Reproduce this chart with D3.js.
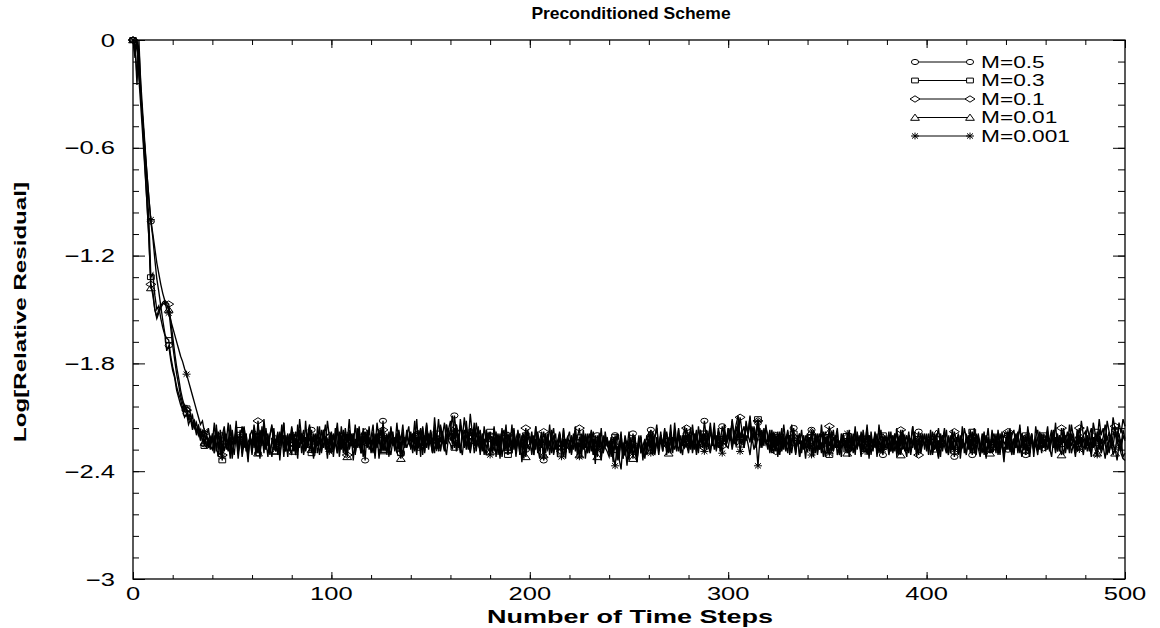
<!DOCTYPE html>
<html>
<head>
<meta charset="utf-8">
<script src="https://cdn.jsdelivr.net/npm/d3@7"></script>
<style>
  body { margin: 0; background: #fff; }
  svg { display: block; }
  text { font-family: "Liberation Sans", Arial, Helvetica, sans-serif; fill: #000; }
</style>
</head>
<body>
<svg id="chart" width="1160" height="628"></svg>
<script>
"use strict";
// one value per time step, 0..500
const steps = d3.range(0, 501);

const labels = ['M=0.5', 'M=0.3', 'M=0.1', 'M=0.01', 'M=0.001'];
const xTicks = [0, 100, 200, 300, 400, 500];
const yTicks = [0, -0.6, -1.2, -1.8, -2.4, -3];

// log10 of relative residual
const m05 = [0, -0.04, -0.01, -0.18, -0.32, -0.46, -0.6, -0.74, -0.88, -1.01,
  -1.1, -1.22, -1.33, -1.4, -1.48, -1.56, -1.63, -1.73, -1.7, -1.78,
  -1.84, -1.88, -1.95, -1.99, -2.03, -2.06, -2.1, -2.08, -2.14, -2.11,
  -2.17, -2.13, -2.2, -2.16, -2.23, -2.18, -2.25, -2.2, -2.27, -2.21,
  -2.24, -2.13, -2.29, -2.18, -2.31, -2.2, -2.15, -2.27, -2.22, -2.33, -2.17, -2.25, -2.12, -2.28, -2.21, -2.3, -2.16, -2.24, -2.35, -2.19,
  -2.27, -2.14, -2.22, -2.3, -2.17, -2.26, -2.11, -2.23, -2.32, -2.2, -2.15, -2.28, -2.24, -2.18, -2.34, -2.21, -2.13, -2.26, -2.19, -2.29,
  -2.16, -2.25, -2.31, -2.14, -2.23, -2.19, -2.3, -2.12, -2.27, -2.22, -2.17, -2.33, -2.2, -2.26, -2.15, -2.29, -2.21, -2.14, -2.28, -2.24,
  -2.18, -2.32, -2.21, -2.13, -2.27, -2.2, -2.3, -2.16, -2.24, -2.11, -2.26, -2.19, -2.31, -2.22, -2.15, -2.28, -2.2, -2.34, -2.17, -2.25,
  -2.21, -2.14, -2.29, -2.23, -2.17, -2.3, -2.12, -2.25, -2.19, -2.32, -2.16, -2.22, -2.27, -2.13, -2.24, -2.3, -2.18, -2.26, -2.2, -2.15,
  -2.28, -2.19, -2.24, -2.11, -2.27, -2.21, -2.16, -2.3, -2.14, -2.23, -2.18, -2.26, -2.1, -2.22, -2.29, -2.15, -2.2, -2.13, -2.25, -2.17,
  -2.12, -2.24, -2.09, -2.19, -2.27, -2.14, -2.22, -2.1, -2.2, -2.28, -2.16, -2.23, -2.13, -2.29, -2.18, -2.25, -2.21, -2.31, -2.17, -2.24,
  -2.2, -2.3, -2.15, -2.26, -2.22, -2.33, -2.18, -2.25, -2.14, -2.29, -2.21, -2.27, -2.16, -2.32, -2.23, -2.19, -2.35, -2.22, -2.28, -2.17,
  -2.25, -2.2, -2.31, -2.15, -2.27, -2.23, -2.18, -2.34, -2.21, -2.26, -2.14, -2.29, -2.24, -2.19, -2.32, -2.2, -2.27, -2.16, -2.3, -2.22,
  -2.18, -2.28, -2.23, -2.15, -2.31, -2.21, -2.26, -2.17, -2.33, -2.24, -2.19, -2.29, -2.22, -2.36, -2.2, -2.27, -2.16, -2.3, -2.24, -2.21,
  -2.29, -2.23, -2.35, -2.2, -2.31, -2.26, -2.18, -2.33, -2.25, -2.37, -2.22, -2.3, -2.19, -2.28, -2.34, -2.24, -2.21, -2.32, -2.27, -2.2,
  -2.26, -2.17, -2.3, -2.22, -2.14, -2.28, -2.2, -2.25, -2.16, -2.31, -2.23, -2.18, -2.27, -2.13, -2.24, -2.29, -2.2, -2.26, -2.15, -2.22,
  -2.19, -2.28, -2.14, -2.24, -2.2, -2.3, -2.17, -2.25, -2.12, -2.22, -2.27, -2.18, -2.23, -2.13, -2.29, -2.19, -2.24, -2.15, -2.21, -2.26,
  -2.16, -2.23, -2.11, -2.2, -2.14, -2.09, -2.22, -2.17, -2.25, -2.12, -2.19, -2.1, -2.24, -2.15, -2.21, -2.13, -2.27, -2.18, -2.23, -2.16,
  -2.2, -2.29, -2.17, -2.25, -2.21, -2.32, -2.18, -2.27, -2.14, -2.24, -2.3, -2.2, -2.26, -2.16, -2.31, -2.22, -2.19, -2.28, -2.23, -2.33,
  -2.21, -2.27, -2.17, -2.3, -2.23, -2.19, -2.28, -2.14, -2.25, -2.32, -2.2, -2.26, -2.18, -2.29, -2.22, -2.16, -2.31, -2.24, -2.2, -2.27,
  -2.23, -2.32, -2.19, -2.26, -2.15, -2.28, -2.21, -2.3, -2.17, -2.25, -2.2, -2.33, -2.18, -2.27, -2.22, -2.29, -2.14, -2.24, -2.31, -2.2,
  -2.26, -2.18, -2.29, -2.21, -2.25, -2.16, -2.3, -2.22, -2.19, -2.27, -2.32, -2.2, -2.24, -2.15, -2.28, -2.23, -2.18, -2.3, -2.21, -2.26,
  -2.22, -2.31, -2.17, -2.27, -2.2, -2.25, -2.33, -2.19, -2.24, -2.16, -2.29, -2.21, -2.26, -2.18, -2.32, -2.23, -2.2, -2.28, -2.15, -2.3,
  -2.19, -2.27, -2.22, -2.31, -2.16, -2.25, -2.2, -2.29, -2.24, -2.18, -2.33, -2.21, -2.27, -2.17, -2.26, -2.22, -2.3, -2.19, -2.25, -2.35,
  -2.21, -2.28, -2.16, -2.25, -2.3, -2.19, -2.24, -2.14, -2.27, -2.22, -2.31, -2.18, -2.26, -2.2, -2.29, -2.15, -2.23, -2.28, -2.19, -2.25,
  -2.22, -2.15, -2.27, -2.19, -2.24, -2.13, -2.29, -2.2, -2.25, -2.16, -2.23, -2.18, -2.28, -2.14, -2.21, -2.26, -2.17, -2.24, -2.12, -2.2,
  -2.24, -2.15, -2.21, -2.27, -2.13, -2.19, -2.23, -2.11, -2.2, -2.16, -2.25, -2.12, -2.18, -2.22, -2.1, -2.17, -2.21, -2.13, -2.19, -2.11,
  -2.15];

const m03 = [0, -0.08, 0, -0.12, -0.3, -0.45, -0.62, -0.8, -1.0, -1.32,
  -1.3, -1.42, -1.5, -1.48, -1.55, -1.6, -1.64, -1.66, -1.67, -1.76,
  -1.82, -1.87, -1.93, -1.97, -2.0, -2.05, -2.03, -2.05, -2.1, -2.08,
  -2.14, -2.12, -2.18, -2.15, -2.22, -2.19, -2.26, -2.2, -2.24, -2.28,
  -2.2, -2.3, -2.16, -2.26, -2.22, -2.34, -2.19, -2.25, -2.29, -2.14, -2.23, -2.31, -2.2, -2.27, -2.17, -2.32, -2.24, -2.19, -2.28, -2.22,
  -2.31, -2.18, -2.26, -2.21, -2.33, -2.15, -2.27, -2.23, -2.19, -2.3, -2.24, -2.16, -2.29, -2.22, -2.26, -2.18, -2.32, -2.2, -2.25, -2.28,
  -2.19, -2.27, -2.22, -2.33, -2.17, -2.25, -2.2, -2.29, -2.24, -2.15, -2.3, -2.21, -2.26, -2.19, -2.31, -2.23, -2.17, -2.28, -2.22, -2.26,
  -2.3, -2.2, -2.25, -2.16, -2.32, -2.23, -2.18, -2.28, -2.21, -2.26, -2.19, -2.34, -2.22, -2.27, -2.17, -2.3, -2.24, -2.2, -2.26, -2.15,
  -2.27, -2.21, -2.33, -2.19, -2.25, -2.16, -2.29, -2.23, -2.2, -2.31, -2.24, -2.18, -2.28, -2.22, -2.17, -2.3, -2.21, -2.26, -2.19, -2.24,
  -2.22, -2.3, -2.18, -2.26, -2.2, -2.32, -2.15, -2.25, -2.21, -2.28, -2.17, -2.23, -2.3, -2.19, -2.26, -2.14, -2.24, -2.29, -2.2, -2.16,
  -2.23, -2.19, -2.27, -2.14, -2.22, -2.29, -2.17, -2.25, -2.12, -2.24, -2.3, -2.18, -2.26, -2.21, -2.15, -2.28, -2.2, -2.25, -2.31, -2.22,
  -2.18, -2.27, -2.21, -2.32, -2.2, -2.26, -2.16, -2.29, -2.23, -2.31, -2.19, -2.25, -2.22, -2.3, -2.17, -2.28, -2.24, -2.33, -2.2, -2.26,
  -2.25, -2.18, -2.29, -2.22, -2.27, -2.33, -2.2, -2.24, -2.3, -2.21, -2.26, -2.17, -2.31, -2.23, -2.28, -2.19, -2.25, -2.32, -2.22, -2.27,
  -2.28, -2.2, -2.25, -2.17, -2.3, -2.24, -2.32, -2.21, -2.27, -2.19, -2.29, -2.23, -2.18, -2.31, -2.25, -2.22, -2.34, -2.2, -2.26, -2.23,
  -2.31, -2.25, -2.29, -2.21, -2.34, -2.27, -2.23, -2.3, -2.2, -2.26, -2.32, -2.24, -2.28, -2.2, -2.35, -2.25, -2.22, -2.3, -2.26, -2.29,
  -2.22, -2.27, -2.18, -2.31, -2.24, -2.28, -2.2, -2.26, -2.17, -2.29, -2.23, -2.19, -2.3, -2.21, -2.25, -2.16, -2.28, -2.22, -2.27, -2.2,
  -2.25, -2.2, -2.3, -2.23, -2.17, -2.27, -2.22, -2.25, -2.19, -2.28, -2.21, -2.15, -2.26, -2.2, -2.24, -2.18, -2.29, -2.22, -2.17, -2.25,
  -2.21, -2.16, -2.25, -2.19, -2.23, -2.12, -2.21, -2.17, -2.27, -2.14, -2.2, -2.24, -2.15, -2.22, -2.18, -2.11, -2.2, -2.25, -2.16, -2.22,
  -2.26, -2.21, -2.3, -2.18, -2.27, -2.22, -2.31, -2.2, -2.25, -2.24, -2.17, -2.29, -2.23, -2.19, -2.28, -2.21, -2.32, -2.25, -2.2, -2.27,
  -2.29, -2.21, -2.26, -2.32, -2.19, -2.28, -2.23, -2.3, -2.18, -2.25, -2.21, -2.31, -2.24, -2.17, -2.27, -2.22, -2.3, -2.19, -2.26, -2.23,
  -2.28, -2.2, -2.27, -2.22, -2.31, -2.18, -2.25, -2.21, -2.29, -2.24, -2.16, -2.3, -2.22, -2.27, -2.19, -2.32, -2.23, -2.26, -2.2, -2.28,
  -2.21, -2.3, -2.24, -2.27, -2.19, -2.32, -2.22, -2.26, -2.17, -2.29, -2.25, -2.2, -2.31, -2.23, -2.18, -2.28, -2.22, -2.3, -2.25, -2.19,
  -2.27, -2.22, -2.31, -2.25, -2.19, -2.28, -2.23, -2.32, -2.2, -2.26, -2.3, -2.21, -2.27, -2.17, -2.29, -2.24, -2.2, -2.33, -2.22, -2.26,
  -2.3, -2.23, -2.28, -2.18, -2.26, -2.31, -2.21, -2.27, -2.19, -2.25, -2.32, -2.22, -2.28, -2.2, -2.24, -2.3, -2.17, -2.26, -2.23, -2.29,
  -2.28, -2.2, -2.26, -2.31, -2.22, -2.27, -2.18, -2.3, -2.23, -2.25, -2.2, -2.29, -2.24, -2.19, -2.32, -2.21, -2.27, -2.23, -2.3, -2.2,
  -2.21, -2.28, -2.22, -2.17, -2.27, -2.21, -2.29, -2.2, -2.25, -2.18, -2.3, -2.23, -2.19, -2.26, -2.22, -2.29, -2.17, -2.25, -2.21, -2.27,
  -2.26, -2.2, -2.25, -2.3, -2.21, -2.26, -2.18, -2.28, -2.22, -2.27, -2.19, -2.24, -2.3, -2.21, -2.26, -2.18, -2.25, -2.22, -2.29, -2.2,
  -2.23];

const m01 = [0, -0.02, -0.25, 0, -0.3, -0.5, -0.7, -0.9, -1.1, -1.36,
  -1.42, -1.5, -1.54, -1.5, -1.48, -1.46, -1.45, -1.46, -1.47, -1.56,
  -1.65, -1.74, -1.82, -1.88, -1.95, -2.0, -2.04, -2.06, -2.1, -2.12,
  -2.09, -2.16, -2.13, -2.2, -2.17, -2.24, -2.19, -2.27, -2.22, -2.25,
  -2.19, -2.26, -2.14, -2.28, -2.21, -2.31, -2.17, -2.24, -2.13, -2.29, -2.2, -2.25, -2.16, -2.3, -2.22, -2.15, -2.27, -2.19, -2.32, -2.21,
  -2.24, -2.17, -2.28, -2.12, -2.25, -2.19, -2.3, -2.16, -2.26, -2.2, -2.14, -2.27, -2.22, -2.31, -2.18, -2.24, -2.13, -2.29, -2.2, -2.25,
  -2.15, -2.23, -2.18, -2.29, -2.11, -2.22, -2.17, -2.27, -2.2, -2.14, -2.26, -2.19, -2.3, -2.15, -2.23, -2.28, -2.17, -2.25, -2.12, -2.21,
  -2.23, -2.29, -2.16, -2.24, -2.28, -2.15, -2.26, -2.19, -2.31, -2.17, -2.22, -2.27, -2.14, -2.25, -2.2, -2.3, -2.16, -2.24, -2.19, -2.28,
  -2.25, -2.18, -2.27, -2.13, -2.22, -2.29, -2.17, -2.24, -2.2, -2.28, -2.15, -2.26, -2.21, -2.3, -2.18, -2.23, -2.14, -2.27, -2.2, -2.25,
  -2.18, -2.24, -2.12, -2.27, -2.2, -2.16, -2.26, -2.22, -2.13, -2.25, -2.19, -2.29, -2.15, -2.23, -2.11, -2.24, -2.18, -2.28, -2.14, -2.21,
  -2.17, -2.09, -2.22, -2.14, -2.25, -2.11, -2.2, -2.27, -2.15, -2.23, -2.08, -2.19, -2.26, -2.13, -2.21, -2.17, -2.28, -2.15, -2.24, -2.19,
  -2.22, -2.29, -2.16, -2.25, -2.19, -2.3, -2.21, -2.17, -2.27, -2.2, -2.26, -2.14, -2.28, -2.22, -2.18, -2.31, -2.2, -2.25, -2.16, -2.27,
  -2.28, -2.2, -2.26, -2.15, -2.3, -2.22, -2.27, -2.18, -2.25, -2.19, -2.31, -2.21, -2.16, -2.28, -2.23, -2.19, -2.29, -2.17, -2.26, -2.21,
  -2.24, -2.3, -2.19, -2.27, -2.21, -2.16, -2.29, -2.23, -2.2, -2.28, -2.25, -2.17, -2.31, -2.22, -2.27, -2.19, -2.24, -2.3, -2.18, -2.26,
  -2.23, -2.32, -2.21, -2.28, -2.19, -2.3, -2.24, -2.33, -2.22, -2.27, -2.18, -2.29, -2.25, -2.21, -2.31, -2.26, -2.2, -2.34, -2.23, -2.28,
  -2.18, -2.25, -2.31, -2.21, -2.16, -2.27, -2.2, -2.29, -2.22, -2.18, -2.26, -2.14, -2.28, -2.21, -2.25, -2.17, -2.3, -2.2, -2.24, -2.16,
  -2.23, -2.16, -2.26, -2.19, -2.29, -2.15, -2.24, -2.2, -2.27, -2.17, -2.22, -2.13, -2.25, -2.19, -2.28, -2.16, -2.21, -2.26, -2.14, -2.23,
  -2.16, -2.21, -2.12, -2.25, -2.15, -2.2, -2.1, -2.18, -2.23, -2.14, -2.19, -2.09, -2.22, -2.16, -2.24, -2.12, -2.2, -2.17, -2.26, -2.14,
  -2.23, -2.17, -2.27, -2.2, -2.29, -2.18, -2.25, -2.16, -2.28, -2.21, -2.19, -2.26, -2.14, -2.24, -2.3, -2.2, -2.25, -2.17, -2.28, -2.22,
  -2.19, -2.27, -2.21, -2.17, -2.3, -2.23, -2.19, -2.28, -2.22, -2.18, -2.26, -2.15, -2.29, -2.21, -2.25, -2.18, -2.3, -2.23, -2.19, -2.26,
  -2.24, -2.17, -2.29, -2.22, -2.18, -2.27, -2.2, -2.31, -2.19, -2.25, -2.14, -2.28, -2.21, -2.26, -2.18, -2.3, -2.22, -2.17, -2.27, -2.23,
  -2.21, -2.27, -2.18, -2.3, -2.23, -2.19, -2.28, -2.17, -2.26, -2.21, -2.29, -2.2, -2.25, -2.15, -2.27, -2.23, -2.31, -2.19, -2.24, -2.2,
  -2.29, -2.19, -2.25, -2.18, -2.28, -2.22, -2.16, -2.27, -2.2, -2.25, -2.17, -2.3, -2.21, -2.26, -2.18, -2.23, -2.29, -2.2, -2.26, -2.16,
  -2.21, -2.28, -2.17, -2.26, -2.21, -2.29, -2.19, -2.25, -2.3, -2.2, -2.24, -2.16, -2.28, -2.22, -2.19, -2.27, -2.23, -2.31, -2.18, -2.25,
  -2.23, -2.18, -2.28, -2.2, -2.17, -2.27, -2.21, -2.16, -2.26, -2.2, -2.29, -2.15, -2.24, -2.19, -2.28, -2.21, -2.17, -2.25, -2.22, -2.27,
  -2.22, -2.18, -2.28, -2.21, -2.17, -2.26, -2.19, -2.29, -2.16, -2.24, -2.2, -2.27, -2.14, -2.23, -2.19, -2.28, -2.21, -2.16, -2.25, -2.2,
  -2.18, -2.26, -2.2, -2.16, -2.27, -2.19, -2.24, -2.17, -2.25, -2.21, -2.14, -2.23, -2.18, -2.27, -2.2, -2.15, -2.24, -2.19, -2.26, -2.17,
  -2.22];

const m001 = [0, -0.1, 0, -0.22, -0.38, -0.55, -0.72, -0.9, -1.1, -1.38,
  -1.4, -1.5, -1.55, -1.52, -1.49, -1.47, -1.46, -1.47, -1.5, -1.6,
  -1.7, -1.78, -1.86, -1.92, -1.98, -2.02, -2.06, -2.05, -2.11, -2.08,
  -2.15, -2.12, -2.19, -2.14, -2.21, -2.17, -2.24, -2.2, -2.23, -2.26,
  -2.28, -2.2, -2.26, -2.32, -2.17, -2.25, -2.29, -2.19, -2.27, -2.21, -2.33, -2.23, -2.18, -2.3, -2.22, -2.27, -2.15, -2.26, -2.31, -2.2,
  -2.17, -2.27, -2.2, -2.3, -2.19, -2.25, -2.16, -2.28, -2.21, -2.31, -2.23, -2.18, -2.29, -2.2, -2.26, -2.14, -2.27, -2.22, -2.32, -2.19,
  -2.22, -2.29, -2.24, -2.18, -2.27, -2.19, -2.31, -2.21, -2.26, -2.16, -2.28, -2.22, -2.19, -2.3, -2.24, -2.17, -2.27, -2.21, -2.33, -2.2,
  -2.27, -2.19, -2.25, -2.3, -2.2, -2.28, -2.17, -2.24, -2.32, -2.19, -2.26, -2.21, -2.29, -2.16, -2.25, -2.3, -2.22, -2.18, -2.27, -2.23,
  -2.24, -2.3, -2.19, -2.27, -2.21, -2.17, -2.28, -2.2, -2.31, -2.18, -2.25, -2.22, -2.29, -2.19, -2.26, -2.33, -2.21, -2.27, -2.17, -2.24,
  -2.27, -2.19, -2.29, -2.21, -2.26, -2.18, -2.31, -2.2, -2.27, -2.19, -2.24, -2.3, -2.17, -2.25, -2.22, -2.28, -2.2, -2.26, -2.14, -2.23,
  -2.25, -2.28, -2.16, -2.27, -2.19, -2.3, -2.21, -2.17, -2.26, -2.2, -2.29, -2.23, -2.18, -2.27, -2.21, -2.31, -2.19, -2.25, -2.2, -2.28,
  -2.29, -2.21, -2.26, -2.18, -2.31, -2.23, -2.2, -2.28, -2.19, -2.27, -2.22, -2.3, -2.17, -2.25, -2.21, -2.29, -2.24, -2.19, -2.32, -2.22,
  -2.21, -2.31, -2.2, -2.28, -2.18, -2.26, -2.22, -2.31, -2.19, -2.27, -2.23, -2.3, -2.2, -2.25, -2.29, -2.18, -2.26, -2.22, -2.33, -2.21,
  -2.3, -2.21, -2.28, -2.2, -2.26, -2.31, -2.19, -2.28, -2.23, -2.21, -2.3, -2.18, -2.27, -2.22, -2.32, -2.2, -2.25, -2.29, -2.21, -2.26,
  -2.27, -2.21, -2.3, -2.25, -2.28, -2.34, -2.2, -2.29, -2.31, -2.23, -2.27, -2.21, -2.33, -2.25, -2.29, -2.2, -2.3, -2.26, -2.22, -2.31,
  -2.28, -2.19, -2.26, -2.3, -2.21, -2.28, -2.18, -2.27, -2.23, -2.19, -2.3, -2.22, -2.26, -2.17, -2.29, -2.21, -2.25, -2.31, -2.2, -2.24,
  -2.27, -2.21, -2.18, -2.28, -2.2, -2.26, -2.17, -2.27, -2.21, -2.25, -2.19, -2.29, -2.22, -2.16, -2.26, -2.2, -2.28, -2.23, -2.18, -2.25,
  -2.22, -2.17, -2.26, -2.18, -2.24, -2.16, -2.25, -2.19, -2.15, -2.23, -2.2, -2.14, -2.24, -2.18, -2.27, -2.21, -2.16, -2.25, -2.19, -2.23,
  -2.28, -2.19, -2.25, -2.3, -2.2, -2.26, -2.19, -2.29, -2.22, -2.27, -2.18, -2.31, -2.23, -2.2, -2.28, -2.24, -2.19, -2.3, -2.22, -2.26,
  -2.21, -2.29, -2.18, -2.26, -2.2, -2.31, -2.23, -2.19, -2.27, -2.21, -2.3, -2.18, -2.25, -2.29, -2.2, -2.27, -2.23, -2.32, -2.21, -2.26,
  -2.3, -2.22, -2.27, -2.19, -2.29, -2.21, -2.26, -2.18, -2.28, -2.22, -2.31, -2.2, -2.25, -2.29, -2.19, -2.27, -2.23, -2.3, -2.21, -2.26,
  -2.27, -2.2, -2.29, -2.23, -2.19, -2.28, -2.21, -2.31, -2.22, -2.2, -2.27, -2.18, -2.29, -2.24, -2.2, -2.3, -2.22, -2.26, -2.19, -2.28,
  -2.19, -2.27, -2.21, -2.3, -2.23, -2.19, -2.29, -2.21, -2.27, -2.18, -2.26, -2.31, -2.2, -2.28, -2.22, -2.25, -2.19, -2.3, -2.23, -2.27,
  -2.24, -2.2, -2.3, -2.22, -2.28, -2.19, -2.27, -2.32, -2.21, -2.28, -2.2, -2.26, -2.3, -2.22, -2.27, -2.19, -2.31, -2.23, -2.25, -2.2,
  -2.2, -2.26, -2.19, -2.29, -2.22, -2.2, -2.3, -2.23, -2.19, -2.28, -2.21, -2.27, -2.32, -2.2, -2.26, -2.22, -2.29, -2.18, -2.25, -2.21,
  -2.26, -2.2, -2.29, -2.23, -2.19, -2.28, -2.21, -2.27, -2.31, -2.2, -2.25, -2.22, -2.3, -2.19, -2.27, -2.23, -2.29, -2.2, -2.26, -2.22,
  -2.28, -2.21, -2.29, -2.19, -2.27, -2.22, -2.3, -2.2, -2.28, -2.23, -2.25, -2.31, -2.21, -2.27, -2.24, -2.3, -2.2, -2.28, -2.22, -2.32,
  -2.3];

const m0001 = [0, -0.03, -0.2, -0.05, -0.25, -0.42, -0.58, -0.74, -0.88, -1.0,
  -1.08, -1.16, -1.24, -1.3, -1.36, -1.41, -1.45, -1.5, -1.52, -1.56,
  -1.6, -1.64, -1.68, -1.72, -1.76, -1.79, -1.83, -1.86, -1.9, -1.94,
  -1.98, -2.02, -2.06, -2.1, -2.14, -2.12, -2.18, -2.2, -2.16, -2.24,
  -2.21, -2.3, -2.18, -2.27, -2.22, -2.32, -2.19, -2.28, -2.23, -2.17, -2.3, -2.24, -2.2, -2.33, -2.22, -2.27, -2.18, -2.29, -2.24, -2.21,
  -2.27, -2.21, -2.31, -2.19, -2.29, -2.22, -2.18, -2.28, -2.2, -2.26, -2.32, -2.22, -2.27, -2.19, -2.3, -2.24, -2.2, -2.29, -2.23, -2.27,
  -2.31, -2.2, -2.28, -2.23, -2.17, -2.3, -2.21, -2.27, -2.19, -2.29, -2.22, -2.32, -2.2, -2.26, -2.21, -2.3, -2.18, -2.27, -2.23, -2.29,
  -2.19, -2.27, -2.21, -2.3, -2.18, -2.26, -2.22, -2.31, -2.2, -2.28, -2.24, -2.19, -2.3, -2.22, -2.27, -2.2, -2.32, -2.23, -2.26, -2.21,
  -2.3, -2.22, -2.27, -2.19, -2.33, -2.23, -2.2, -2.29, -2.21, -2.27, -2.31, -2.22, -2.26, -2.19, -2.28, -2.24, -2.32, -2.21, -2.27, -2.23,
  -2.2, -2.28, -2.22, -2.31, -2.19, -2.27, -2.21, -2.29, -2.18, -2.26, -2.23, -2.3, -2.2, -2.27, -2.22, -2.29, -2.19, -2.25, -2.31, -2.21,
  -2.19, -2.25, -2.18, -2.29, -2.21, -2.26, -2.31, -2.2, -2.28, -2.22, -2.27, -2.19, -2.3, -2.23, -2.26, -2.2, -2.29, -2.22, -2.27, -2.24,
  -2.31, -2.23, -2.29, -2.21, -2.27, -2.19, -2.32, -2.24, -2.28, -2.2, -2.26, -2.3, -2.22, -2.27, -2.2, -2.31, -2.23, -2.28, -2.21, -2.26,
  -2.27, -2.22, -2.31, -2.24, -2.2, -2.29, -2.23, -2.32, -2.21, -2.28, -2.25, -2.21, -2.3, -2.23, -2.27, -2.2, -2.32, -2.24, -2.29, -2.22,
  -2.23, -2.31, -2.21, -2.29, -2.24, -2.32, -2.22, -2.27, -2.19, -2.3, -2.25, -2.22, -2.31, -2.2, -2.28, -2.24, -2.33, -2.21, -2.27, -2.29,
  -2.32, -2.25, -2.31, -2.37, -2.26, -2.33, -2.39, -2.24, -2.31, -2.27, -2.34, -2.23, -2.3, -2.28, -2.35, -2.22, -2.29, -2.26, -2.33, -2.24,
  -2.24, -2.3, -2.21, -2.28, -2.23, -2.31, -2.22, -2.29, -2.2, -2.27, -2.25, -2.3, -2.21, -2.28, -2.24, -2.19, -2.3, -2.22, -2.27, -2.25,
  -2.3, -2.22, -2.28, -2.2, -2.31, -2.23, -2.27, -2.19, -2.29, -2.22, -2.26, -2.3, -2.21, -2.28, -2.2, -2.27, -2.23, -2.3, -2.19, -2.26,
  -2.27, -2.2, -2.28, -2.21, -2.26, -2.18, -2.29, -2.22, -2.27, -2.2, -2.25, -2.31, -2.21, -2.28, -2.23, -2.37, -2.22, -2.27, -2.19, -2.25,
  -2.22, -2.3, -2.2, -2.27, -2.21, -2.31, -2.23, -2.28, -2.19, -2.29, -2.24, -2.2, -2.3, -2.22, -2.27, -2.21, -2.32, -2.23, -2.26, -2.2,
  -2.27, -2.21, -2.31, -2.23, -2.29, -2.2, -2.28, -2.24, -2.32, -2.21, -2.26, -2.3, -2.22, -2.28, -2.2, -2.31, -2.24, -2.27, -2.21, -2.29,
  -2.19, -2.28, -2.22, -2.3, -2.2, -2.27, -2.23, -2.32, -2.21, -2.29, -2.24, -2.2, -2.31, -2.22, -2.27, -2.19, -2.3, -2.24, -2.28, -2.21,
  -2.22, -2.31, -2.24, -2.2, -2.29, -2.23, -2.31, -2.21, -2.28, -2.24, -2.2, -2.3, -2.22, -2.27, -2.21, -2.32, -2.23, -2.28, -2.2, -2.26,
  -2.2, -2.28, -2.23, -2.31, -2.21, -2.27, -2.32, -2.22, -2.29, -2.23, -2.27, -2.2, -2.3, -2.24, -2.28, -2.21, -2.31, -2.22, -2.27, -2.25,
  -2.31, -2.22, -2.28, -2.2, -2.3, -2.24, -2.21, -2.29, -2.23, -2.31, -2.2, -2.27, -2.24, -2.3, -2.22, -2.28, -2.19, -2.29, -2.25, -2.31,
  -2.27, -2.19, -2.29, -2.22, -2.31, -2.21, -2.28, -2.24, -2.32, -2.23, -2.27, -2.2, -2.3, -2.22, -2.28, -2.25, -2.31, -2.21, -2.27, -2.23,
  -2.29, -2.21, -2.27, -2.32, -2.22, -2.3, -2.2, -2.28, -2.23, -2.31, -2.24, -2.27, -2.21, -2.3, -2.25, -2.32, -2.22, -2.28, -2.24, -2.31,
  -2.22, -2.29, -2.24, -2.32, -2.21, -2.28, -2.31, -2.23, -2.3, -2.26, -2.33, -2.24, -2.29, -2.22, -2.31, -2.27, -2.34, -2.25, -2.3, -2.33,
  -2.34];

const seriesValues = [m05, m03, m01, m001, m0001];
const markerTypes = ['circle', 'square', 'diamond', 'triangle', 'star'];

const svg = d3.select('#chart');
const plot = {left: 133, right: 1125, top: 40, bottom: 579};
// the source picture is stretched sideways, so text is too
const SX = 1.42;

const x = d3.scaleLinear().domain([0, 500]).range([plot.left, plot.right]);
const y = d3.scaleLinear().domain([-3, 0]).range([plot.bottom, plot.top]);

function marker(type) {
  const p = d3.path();
  if (type === 'circle') {
    return 'M-3.6,0 A3.6,2.6 0 1,0 3.6,0 A3.6,2.6 0 1,0 -3.6,0 Z';
  }
  if (type === 'square') { p.rect(-3.4, -2.4, 6.8, 4.8); return p.toString(); }
  if (type === 'diamond') {
    p.moveTo(-5, 0); p.lineTo(0, -3.2); p.lineTo(5, 0); p.lineTo(0, 3.2); p.closePath();
    return p.toString();
  }
  if (type === 'triangle') {
    p.moveTo(-4.4, 2.8); p.lineTo(0, -3.4); p.lineTo(4.4, 2.8); p.closePath();
    return p.toString();
  }
  // asterisk
  p.moveTo(-4, 0); p.lineTo(4, 0);
  p.moveTo(0, -3.4); p.lineTo(0, 3.4);
  p.moveTo(-3, -2.6); p.lineTo(3, 2.6);
  p.moveTo(-3, 2.6); p.lineTo(3, -2.6);
  return p.toString();
}

function addText(str, px, py, size, anchor, weight, sx) {
  return svg.append('text')
    .attr('transform', `translate(${px},${py}) scale(${sx || SX},1)`)
    .attr('text-anchor', anchor)
    .style('font-size', size + 'px')
    .style('font-weight', weight || 'normal')
    .text(str);
}

// ticks, all pointing inward
function tickRow(axis, tr, values, len) {
  svg.append('g')
    .attr('transform', tr)
    .style('color', '#000')
    .call(axis.tickValues(values).tickSize(-len).tickFormat('').tickSizeOuter(0))
    .call(g => g.select('.domain').remove())
    .call(g => g.selectAll('line').attr('stroke-width', 1));
}
const xMinor = d3.range(0, 501, 20);
const yMinor = d3.range(0, 26).map(i => -i * 0.12);
tickRow(d3.axisBottom(x), `translate(0,${plot.bottom})`, xMinor, 4);
tickRow(d3.axisBottom(x), `translate(0,${plot.bottom})`, xTicks, 7);
tickRow(d3.axisTop(x), `translate(0,${plot.top})`, xMinor, 5);
tickRow(d3.axisTop(x), `translate(0,${plot.top})`, xTicks, 8);
tickRow(d3.axisLeft(y), `translate(${plot.left},0)`, yMinor, 6);
tickRow(d3.axisLeft(y), `translate(${plot.left},0)`, yTicks, 12);
tickRow(d3.axisRight(y), `translate(${plot.right},0)`, yMinor, 7);
tickRow(d3.axisRight(y), `translate(${plot.right},0)`, yTicks, 12);

svg.append('rect')
  .attr('x', plot.left).attr('y', plot.top)
  .attr('width', plot.right - plot.left).attr('height', plot.bottom - plot.top)
  .attr('fill', 'none').attr('stroke', '#000').attr('stroke-width', 1.3);

// tick labels
const fmt = v => v === 0 ? '0' : '\u2212' + Math.abs(v);
yTicks.forEach(v => addText(fmt(v), 115, y(v) + 6.5, 18, 'end'));
xTicks.forEach(v => addText(String(v), x(v), 600, 18, 'middle'));

// lines + markers
const line = d3.line().x(d => x(d.step)).y(d => y(d.v));
seriesValues.forEach((vals, si) => {
  const pts = steps.map((s, i) => ({step: s, v: vals[i]}));
  svg.append('path')
    .datum(pts)
    .attr('d', line)
    .attr('fill', 'none')
    .attr('stroke', '#000')
    .attr('stroke-width', 1.35);
  // one marker every 9 steps
  svg.append('g').selectAll('path')
    .data(pts.filter(d => d.step % 9 === 0))
    .join('path')
    .attr('transform', d => `translate(${x(d.step)},${y(d.v)})`)
    .attr('d', marker(markerTypes[si]))
    .attr('fill', 'none')
    .attr('stroke', '#000')
    .attr('stroke-width', 1);
});

// legend
const legY = d3.scalePoint().domain(labels).range([62, 136]);
labels.forEach((lab, i) => {
  const ly = legY(lab);
  svg.append('line').attr('x1', 915).attr('x2', 970).attr('y1', ly).attr('y2', ly)
    .attr('stroke', '#000').attr('stroke-width', 1);
  [915, 970].forEach(mx => svg.append('path')
    .attr('transform', `translate(${mx},${ly})`)
    .attr('d', marker(markerTypes[i]))
    .attr('fill', '#fff').attr('stroke', '#000').attr('stroke-width', 1));
  addText(lab, 981, ly + 5.5, 16, 'start');
});

// titles
addText('Preconditioned Scheme', 631, 19, 16.5, 'middle', 'bold', 1.06);
addText('Number of Time Steps', 630, 623, 18, 'middle', 'bold', 1.5);
svg.append('text')
  .attr('transform', `translate(26,312) rotate(-90) scale(${SX},1)`)
  .attr('text-anchor', 'middle')
  .style('font-size', '17px')
  .style('font-weight', 'bold')
  .text('Log[Relative Residual]');
</script>
</body>
</html>
